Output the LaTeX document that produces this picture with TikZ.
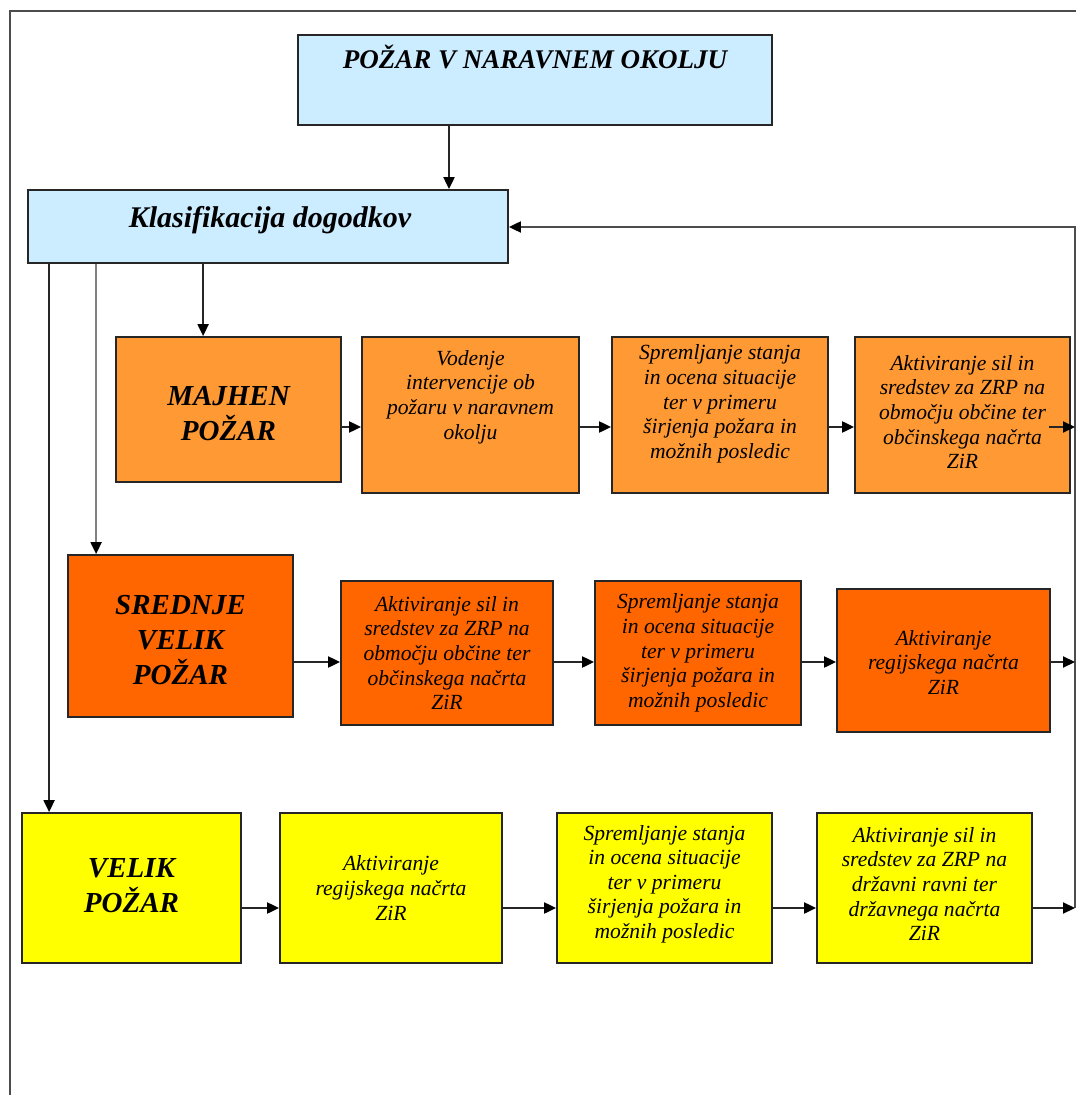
\documentclass[tikz,border=0pt]{standalone}
\usepackage{fontspec}
\setmainfont{Liberation Serif}
\usetikzlibrary{arrows.meta}
\definecolor{lblue}{HTML}{CCECFF}
\definecolor{orA}{HTML}{FF9933}
\definecolor{orB}{HTML}{FF6600}
\definecolor{yel}{HTML}{FFFF00}
\begin{document}
\begin{tikzpicture}[x=0.5pt,y=-0.5pt,
  box/.style={draw=black!85,line width=0.9pt,inner sep=0pt},
  small/.style={align=center,inner sep=0pt,font=\itshape\fontsize{10.8}{12.3}\selectfont},
  big/.style={align=center,inner sep=0pt,font=\bfseries\itshape\fontsize{14.5}{17.5}\selectfont},
  conn/.style={line width=1pt,draw=black!85},
  arr/.style={conn,-{Triangle[length=6pt,width=5.5pt,color=black]}},
  frameline/.style={line width=1pt,draw=black!70}]
\useasboundingbox (0,0) rectangle (1076,1095);
\fill[white] (0,0) rectangle (1076,1095);
% frame
\draw[frameline] (9,11) -- (1076,11);
\draw[frameline] (10,11) -- (10,1095);
% top boxes
\node[box,fill=lblue,minimum width=237pt,minimum height=45pt] (top) at (535,80) {};
\node[anchor=base,inner sep=0pt,font=\bfseries\itshape\fontsize{13.5}{16}\selectfont] (topT) at (535,69) {POŽAR V NARAVNEM OKOLJU};
\node[box,fill=lblue,minimum width=240pt,minimum height=36.5pt] (kl) at (268,226.5) {};
\node[anchor=base,inner sep=0pt,font=\bfseries\itshape\fontsize{15}{18}\selectfont] (klT) at (270,228) {Klasifikacija dogodkov};
% row 1
\node[box,fill=orA,minimum width=112.5pt,minimum height=72.5pt] (maj) at (228.5,409.5) {};
\node[big] (majT) at ([yshift=-2pt]maj.center) {MAJHEN\\POŽAR};
\node[box,fill=orA,minimum width=108.5pt,minimum height=78pt] (vod) at (470.5,415) {};
\node[small] (vodT) at ([yshift=9pt]vod.center) {Vodenje\\intervencije ob\\požaru v naravnem\\okolju};
\node[box,fill=orA,minimum width=108pt,minimum height=78pt] (spr1) at (720,415) {};
\node[small] (spr1T) at ([yshift=5.5pt]spr1.center) {Spremljanje stanja\\in ocena situacije\\ter v primeru\\širjenja požara in\\možnih posledic};
\node[box,fill=orA,minimum width=107.5pt,minimum height=78pt] (akt1) at (962.5,415) {};
\node[small] (akt1T) at ([yshift=1.5pt]akt1.center) {Aktiviranje sil in\\sredstev za ZRP na\\območju občine ter\\občinskega načrta\\ZiR};
% row 2
\node[box,fill=orB,minimum width=112.5pt,minimum height=81pt] (sred) at (180.5,636) {};
\node[big] (sredT) at ([yshift=-2pt]sred.center) {SREDNJE\\VELIK\\POŽAR};
\node[box,fill=orB,minimum width=106pt,minimum height=72pt] (akt2) at (447,653) {};
\node[small] (akt2T) at (akt2.center) {Aktiviranje sil in\\sredstev za ZRP na\\območju občine ter\\občinskega načrta\\ZiR};
\node[box,fill=orB,minimum width=103pt,minimum height=72pt] (spr2) at (698,653) {};
\node[small] (spr2T) at (spr2.center) {Spremljanje stanja\\in ocena situacije\\ter v primeru\\širjenja požara in\\možnih posledic};
\node[box,fill=orB,minimum width=106.5pt,minimum height=71.5pt] (reg2) at (943.5,660.5) {};
\node[small] (reg2T) at ([yshift=-1pt]reg2.center) {Aktiviranje\\regijskega načrta\\ZiR};
% row 3
\node[box,fill=yel,minimum width=109.5pt,minimum height=75pt] (vel) at (131.5,888) {};
\node[big] (velT) at ([yshift=1pt]vel.center) {VELIK\\POŽAR};
\node[box,fill=yel,minimum width=111pt,minimum height=75pt] (reg3) at (391,888) {};
\node[small] (reg3T) at (reg3.center) {Aktiviranje\\regijskega načrta\\ZiR};
\node[box,fill=yel,minimum width=107.5pt,minimum height=75pt] (spr3) at (664.5,888) {};
\node[small] (spr3T) at ([yshift=2pt]spr3.center) {Spremljanje stanja\\in ocena situacije\\ter v primeru\\širjenja požara in\\možnih posledic};
\node[box,fill=yel,minimum width=107.5pt,minimum height=75pt] (akt3) at (924.5,888) {};
\node[small] (akt3T) at ([yshift=2pt]akt3.center) {Aktiviranje sil in\\sredstev za ZRP na\\državni ravni ter\\državnega načrta\\ZiR};
% connectors top
\coordinate (t1) at ([xshift=-43pt]top.south);
\draw[arr] (t1) -- (t1 |- kl.north);
\coordinate (k1) at ([xshift=11pt]kl.south west);
\coordinate (k2) at ([xshift=34.5pt]kl.south west);
\coordinate (k3) at ([xshift=88pt]kl.south west);
\draw[arr] (k1) -- (k1 |- vel.north);
\draw[arr,draw=black!50] (k2) -- (k2 |- sred.north);
\draw[arr] (k3) -- (k3 |- maj.north);
% feedback line
\coordinate (fbT) at (1075,227);
\coordinate (r1) at ([yshift=-6pt]vod.west);
\coordinate (r2) at ([yshift=-4.5pt]akt2.west);
\coordinate (r3) at ([yshift=-10pt]reg3.west);
\draw[arr,draw=black!70] (fbT |- r3) -- (fbT) -- (kl.east |- fbT);
% row 1 arrows
\coordinate (a1s) at ([xshift=-11pt]akt1.east);
\draw[arr] (maj.east |- r1) -- (r1);
\draw[arr] (vod.east |- r1) -- (spr1.west |- r1);
\draw[arr] (spr1.east |- r1) -- (akt1.west |- r1);
\draw[arr] (a1s |- r1) -- (fbT |- r1);
% row 2 arrows
\draw[arr] (sred.east |- r2) -- (r2);
\draw[arr] (akt2.east |- r2) -- (spr2.west |- r2);
\draw[arr] (spr2.east |- r2) -- (reg2.west |- r2);
\draw[arr] (reg2.east |- r2) -- (fbT |- r2);
% row 3 arrows
\draw[arr] (vel.east |- r3) -- (r3);
\draw[arr] (reg3.east |- r3) -- (spr3.west |- r3);
\draw[arr] (spr3.east |- r3) -- (akt3.west |- r3);
\draw[arr] (akt3.east |- r3) -- (fbT |- r3);
\end{tikzpicture}
\end{document}
